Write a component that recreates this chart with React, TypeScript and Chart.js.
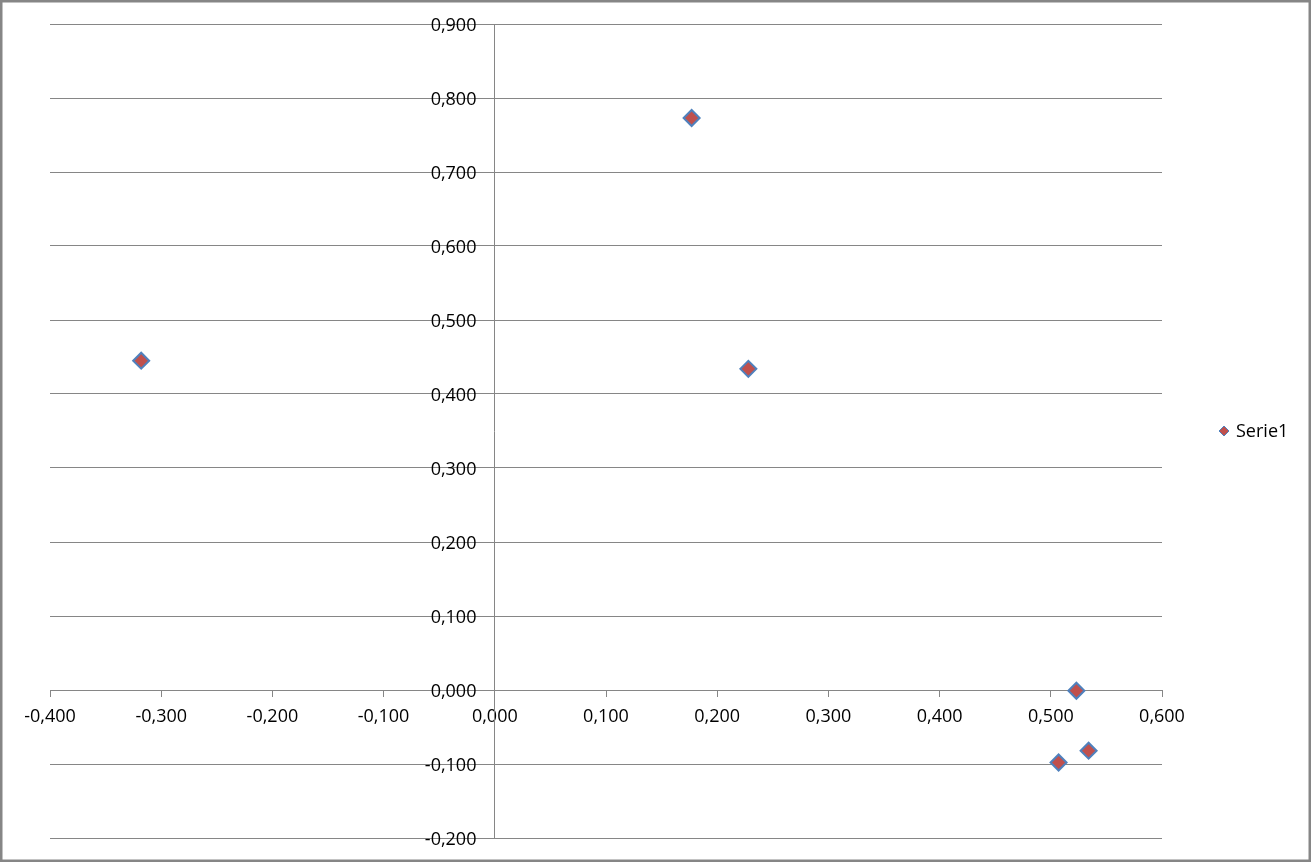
import React, { useEffect, useRef } from "react";
import { Chart, registerables } from "chart.js";

Chart.register(...registerables);

const SERIES_NAME = "Serie1";
const X_VALUES = [-0.318, 0.177, 0.228, 0.523, 0.534, 0.507];
const Y_VALUES = [0.445, 0.773, 0.434, -0.001, -0.082, -0.098];
const X_TICKS = [-0.4, -0.3, -0.2, -0.1, 0, 0.1, 0.2, 0.3, 0.4, 0.5, 0.6];
const Y_TICKS = [-0.2, -0.1, 0, 0.1, 0.2, 0.3, 0.4, 0.5, 0.6, 0.7, 0.8, 0.9];

const GRAY = "#868686";
const FILL = "#C0504D";
const STROKE = "#4F81BD";
const FONT_FAMILY = "'Open Sans', 'Liberation Sans', sans-serif";
const FONT_SIZE = 18;

const fmt = (v: number) => {
  const s = Math.abs(v).toFixed(3).replace(".", ",");
  return (v < -1e-9 ? "-" : "") + s;
};

const frameAndLegend = {
  id: "frameAndLegend",
  afterDraw(chart: any) {
    const ctx = chart.ctx;
    const w = chart.width;
    const h = chart.height;
    ctx.save();
    ctx.strokeStyle = GRAY;
    ctx.lineWidth = 2.5;
    ctx.strokeRect(1.25, 1.25, w - 2.5, h - 2.5);
    // legend
    const cx = 1224;
    const cy = 431;
    const r = 5;
    ctx.beginPath();
    ctx.moveTo(cx - r, cy);
    ctx.lineTo(cx, cy - r);
    ctx.lineTo(cx + r, cy);
    ctx.lineTo(cx, cy + r);
    ctx.closePath();
    ctx.fillStyle = FILL;
    ctx.fill();
    ctx.strokeStyle = STROKE;
    ctx.lineWidth = 1;
    ctx.stroke();
    ctx.fillStyle = "#000";
    ctx.font = `${FONT_SIZE}px ${FONT_FAMILY}`;
    ctx.textAlign = "left";
    ctx.textBaseline = "middle";
    ctx.fillText(SERIES_NAME, 1236, cy + 1);
    ctx.restore();
  },
};

export default function App() {
  const ref = useRef<HTMLCanvasElement | null>(null);
  useEffect(() => {
    if (!ref.current) return;
    const data = X_VALUES.map((x, i) => ({ x, y: Y_VALUES[i] }));
    const tickFont = { family: FONT_FAMILY, size: FONT_SIZE };
    const chart = new Chart(ref.current, {
      type: "scatter",
      data: {
        datasets: [
          {
            label: SERIES_NAME,
            data,
            xAxisID: "x",
            yAxisID: "y",
            pointStyle: "rectRot",
            pointRadius: 8,
            pointHoverRadius: 8,
            backgroundColor: FILL,
            borderColor: STROKE,
            borderWidth: 2,
          },
        ],
      },
      options: {
        animation: false,
        responsive: false,
        maintainAspectRatio: false,
        events: [],
        layout: { autoPadding: false, padding: { left: 50, right: 149, top: 24, bottom: 24 } },
        plugins: { legend: { display: false }, tooltip: { enabled: false } },
        scales: {
          x: {
            type: "linear",
            position: { y: 0 } as any,
            min: -0.4,
            max: 0.6,
            afterBuildTicks: (s: any) => {
              s.ticks = X_TICKS.map((v) => ({ value: v }));
            },
            ticks: {
              callback: (v: any) => fmt(Number(v)),
              color: "#000",
              font: tickFont,
              padding: 10,
              maxRotation: 0,
              autoSkip: false,
            },
            grid: {
              drawOnChartArea: false,
              drawTicks: true,
              tickLength: 6,
              color: GRAY,
              lineWidth: 1,
            },
            border: { display: true, color: GRAY, width: 1 },
          },
          y: {
            type: "linear",
            position: { x: 0 } as any,
            min: -0.2,
            max: 0.9,
            afterBuildTicks: (s: any) => {
              s.ticks = Y_TICKS.map((v) => ({ value: v }));
            },
            ticks: { display: false },
            grid: {
              drawOnChartArea: true,
              drawTicks: false,
              color: GRAY,
              lineWidth: 1,
            },
            border: { display: true, color: GRAY, width: 1 },
          },
          yLabels: {
            type: "linear",
            position: { x: -0.0165 } as any,
            min: -0.2,
            max: 0.9,
            afterBuildTicks: (s: any) => {
              s.ticks = Y_TICKS.map((v) => ({ value: v }));
            },
            ticks: {
              callback: (v: any) => fmt(Number(v)),
              color: "#000",
              font: tickFont,
              padding: 0,
              labelOffset: 1.5,
              autoSkip: false,
            },
            grid: { display: false, drawTicks: false },
            border: { display: false },
          },
        },
      },
      plugins: [frameAndLegend],
    });
    return () => chart.destroy();
  }, []);
  return (
    <div style={{ position: "absolute", left: 0, top: 0, width: 1311, height: 862, background: "#fff" }}>
      <canvas ref={ref} width={1311} height={862} style={{ width: 1311, height: 862, display: "block" }} />
    </div>
  );
}
